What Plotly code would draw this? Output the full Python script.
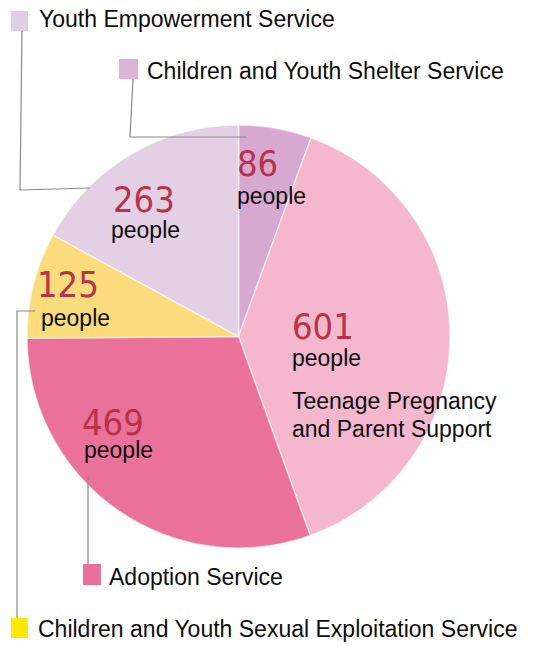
import plotly.graph_objects as go

# page is 547x646; the HTML body has an 8px margin, so the figure is drawn 8px in
PAGE_W, PAGE_H = 547, 646
OFF = 8
W, H = PAGE_W - OFF, PAGE_H - OFF

# ---- data ----
services = [
    "Children and Youth Shelter Service",
    "Teenage Pregnancy and Parent Support",
    "Adoption Service",
    "Children and Youth Sexual Exploitation Service",
    "Youth Empowerment Service",
]
people = [86, 601, 469, 125, 263]
unit_label = "people"
slice_colors = ["#d8a9d0", "#f4b7ce", "#e9719a", "#fadc7c", "#e3d0e5"]
legend_colors = ["#dcb2d6", None, "#e8709a", "#ffe800", "#e0cfe4"]

# ---- layout helpers (page pixel -> paper) ----
def px(x):
    return (x - OFF) / W

def py(y):
    return 1 - (y - OFF) / H

fig = go.Figure()
fig.add_trace(go.Pie(
    labels=services,
    values=people,
    sort=False,
    direction="clockwise",
    rotation=0,
    marker=dict(colors=slice_colors, line=dict(color="rgba(255,255,255,0.55)", width=1.5)),
    textinfo="none",
    hoverinfo="label+value",
    showlegend=False,
    domain=dict(x=[px(27), px(450)], y=[py(548), py(125)]),
))

num_font = dict(family="Liberation Sans Narrow, DejaVu Sans Condensed, sans-serif", size=36, color="#b7324a")
txt_font = dict(family="Liberation Sans, Arial, sans-serif", size=23, color="#0d0d0d")

# label positions per slice: (number x, number y-center, people x, people y-center)
label_pos = [
    (238, 164, 238, 196),
    (293, 326, 293, 358),
    (83, 422, 85, 450),
    (38, 284, 42, 318),
    (114, 199, 112, 230),
]

annotations = []
for i, (v, pos) in enumerate(zip(people, label_pos)):
    nx, ny, qx, qy = pos
    annotations.append(dict(x=px(nx - 2), y=py(ny), text=str(v), font=num_font,
                            xanchor="left", yanchor="middle", showarrow=False,
                            xref="paper", yref="paper", borderpad=0))
    annotations.append(dict(x=px(qx - 2), y=py(qy), text=unit_label, font=txt_font,
                            xanchor="left", yanchor="middle", showarrow=False,
                            xref="paper", yref="paper", borderpad=0))

# Teenage pregnancy label written inside its slice (two lines)
tp_words = services[1].split(" and ")
annotations.append(dict(x=px(291), y=py(400.5), text=tp_words[0], font=txt_font,
                        xanchor="left", yanchor="middle", showarrow=False,
                        xref="paper", yref="paper", borderpad=0))
annotations.append(dict(x=px(291), y=py(429), text="and " + tp_words[1], font=txt_font,
                        xanchor="left", yanchor="middle", showarrow=False,
                        xref="paper", yref="paper", borderpad=0))

# legend entries: (square x0, y0, x1, y1, text x, text y-center)
legend_pos = {
    0: (119, 59, 138, 79, 146, 71),
    2: (83, 564, 101, 585, 108, 577),
    3: (11, 618, 28, 638, 37, 629),
    4: (11, 11, 28, 31, 38, 19),
}

shapes = []
for i, (x0, y0, x1, y1, tx, ty) in legend_pos.items():
    shapes.append(dict(type="rect", xref="paper", yref="paper",
                       x0=px(x0), x1=px(x1), y0=py(y1), y1=py(y0),
                       fillcolor=legend_colors[i], line=dict(width=0)))
    annotations.append(dict(x=px(tx), y=py(ty), text=services[i], font=txt_font,
                            xanchor="left", yanchor="middle", showarrow=False,
                            xref="paper", yref="paper", borderpad=0))

# connector lines (page pixel paths)
connectors = [
    [(22, 31), (20, 190), (90, 188)],
    [(133, 79), (130, 137), (246, 137)],
    [(35, 311), (17, 311), (17, 618)],
    [(88, 477), (88, 565)],
]
for pts in connectors:
    path = "M " + " L ".join(f"{px(x)},{py(y)}" for x, y in pts)
    shapes.append(dict(type="path", xref="paper", yref="paper", path=path,
                       line=dict(color="#8a8a8a", width=1.2)))

fig.update_layout(
    width=W, height=H,
    margin=dict(l=0, r=0, t=0, b=0),
    paper_bgcolor="white",
    plot_bgcolor="white",
    annotations=annotations,
    shapes=shapes,
)

fig.write_html("out.html")
